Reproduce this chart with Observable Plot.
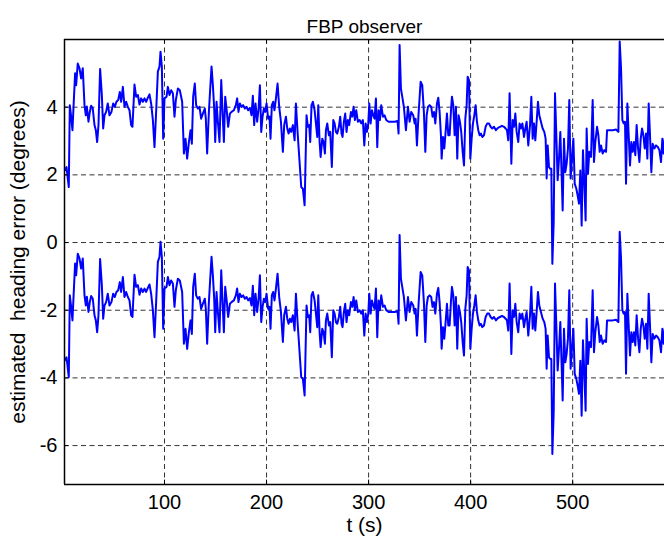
<!DOCTYPE html>
<html><head><meta charset="utf-8">
<script src="https://cdn.jsdelivr.net/npm/d3@7"></script>
<script src="https://cdn.jsdelivr.net/npm/@observablehq/plot@0.6"></script>
<style>html,body{margin:0;padding:0;background:#fff}</style>
</head><body><div id="chart"></div>
<script>
const title = "FBP observer";
const xLabel = "t (s)";
const yLabel = "estimated  heading error (degrees)";
const xTicks = [100, 200, 300, 400, 500];
const yTicks = [-6, -4, -2, 0, 2, 4];
const xDomain = [2, 590];
const yDomain = [-7.15, 6];

const t = [
2,4,6.2,7.2,8.5,9.8,11,12.4,13.4,15,
16.7,18.3,19.9,21.6,22.9,23.9,25.5,26.8,28.1,29.7,
31.4,32.7,34,35.3,36.9,38.6,39.9,41.2,42.8,44.4,
46.1,48,49.7,51.3,52.9,54.6,56.2,57.5,59.2,60.8,
62.4,64.1,65.7,67.3,68.6,70.6,72.2,73.9,75.5,77.1,
78.8,80.4,82,83.7,85.3,86.9,88.6,90.2,91.8,93.5,
95.1,96.1,97.4,98.7,100,102,103.3,104.9,106.5,108.2,
109.8,111.1,113.1,115,117.3,119,120.6,122.2,123.9,125.5,
126.8,128.1,129.7,131,132.7,134.3,135.9,137.6,139.5,140.5,
141.8,143.5,144.8,146.1,147.4,148.7,149.7,151,152.3,153.9,
155.6,156.9,158.2,159.5,161.1,162.4,164.1,165.7,168,169.9,
171.2,172.5,173.9,175.5,177.1,178.8,180.4,182,183.7,185.3,
186.6,187.9,189.2,190.8,192.2,193.5,194.8,196.1,197.4,198.7,
200,201.6,202.9,203.9,205.2,206.5,207.8,209.2,210.8,212.4,
214.1,216,217.3,219,220.3,221.6,222.9,224.2,225.8,227.5,
228.8,230.4,234,235.6,237.3,239.2,240.5,241.8,242.8,244.1,
245.4,247.1,248.4,249.7,250.7,252,253,254.6,255.9,257.2,
258.2,259.5,261.1,262.4,264,265.4,266.7,268,269.3,270.9,
272.2,273.5,274.5,275.8,277.1,278.4,279.7,281,282.7,284,
285.3,286.6,287.9,289.5,291.2,292.8,294.4,295.8,297.1,298.4,
299.7,300.7,302,303.3,304.6,305.9,307.2,308.5,309.8,311.1,
312.4,314.1,315.7,317.3,319.6,322.2,325.5,328.4,329.4,330.4,
331.7,333,334.6,336.6,338.6,340.2,341.8,343.8,345.1,346.1,
347.4,349,351,352.6,354.2,355.6,356.9,358.2,359.8,361.4,
362.7,364.1,365.4,367,368.3,369.6,370.9,371.6,372.9,374.2,
375.5,376.8,378.1,379.4,380.7,381.7,383,384.3,385.6,386.9,
388.2,389.5,390.8,392.2,393.5,394.8,396.1,397.1,398.4,399.7,
401,402.3,403.6,404.9,406.2,407.5,408.8,410.1,411.4,413.1,
414.7,416.3,418,419.6,421.2,422.9,424.8,426.8,428.8,430.7,
432.7,434.3,435.6,436.9,438.2,439.9,441.2,442.5,443.8,445.1,
446.7,448,449.3,450.7,452.3,453.6,454.9,456.5,458.2,459.5,
460.8,462.1,463.4,464.7,466,467.3,470.6,472.2,473.5,474.5,
475.5,476.8,478.1,479.1,480.1,481.4,482.7,484,485.3,486.6,
487.9,489.2,490.2,491.5,492.8,494.1,495.4,496.7,498,499.3,
500.7,502,503.6,504.9,506.2,507.5,508.8,510.1,511.4,512.7,
513.7,515,516.3,518,519.6,520.9,522.2,523.9,525.2,526.5,
527.8,529.4,531,532.7,533.7,535.9,539.2,542.5,544.8,546.1,
547.4,548.7,550,551.3,552.3,553.6,554.9,556.2,557.5,558.8,
560.1,561.4,562.7,564.1,565.4,566.7,568,569.3,570.6,571.9,
573.2,574.5,575.8,577.1,578.4,580.1,581.7,583.3,585,586.6,
587.9,589.2,590.6
];

const upper = [
2.13,2.23,1.64,4.06,3.72,3.32,4.11,5.00,4.65,5.29,
5.15,4.85,5.15,4.06,3.76,4.02,3.57,3.86,4.04,3.96,
3.47,3.32,2.97,3.47,5.13,4.36,3.37,3.76,3.86,4.11,
3.76,3.86,4.11,4.01,4.16,4.21,4.45,4.16,4.60,4.01,
4.16,4.01,3.91,3.47,3.42,4.67,4.31,4.36,4.08,4.26,
4.16,4.26,4.16,4.28,4.38,4.11,3.62,2.82,3.86,5.05,
5.20,5.64,5.20,3.07,4.26,4.31,4.60,4.36,4.50,4.41,
3.72,4.21,4.55,4.50,4.16,2.63,3.07,2.48,2.97,3.32,
2.92,4.31,4.70,4.06,3.96,4.01,3.66,3.81,3.96,3.66,
2.63,3.86,4.55,5.20,4.65,3.96,2.97,4.16,3.57,2.97,
4.80,3.86,2.97,4.31,3.86,3.42,3.81,3.86,3.91,4.06,
4.26,3.86,4.11,4.01,4.06,3.96,4.01,3.91,3.98,3.76,
4.34,3.47,4.11,3.57,3.96,4.65,3.27,3.72,3.96,3.86,
4.11,3.66,3.72,3.07,4.06,4.16,3.91,4.26,4.70,4.01,
3.57,2.68,3.47,3.72,3.37,3.22,3.37,3.27,3.47,3.02,
4.11,3.27,1.64,1.59,1.10,3.76,3.42,3.47,2.97,4.06,
4.16,3.91,3.52,3.12,4.06,2.97,2.53,3.07,2.97,2.63,
3.32,3.52,3.17,3.27,2.23,3.62,3.52,3.27,3.22,3.42,
3.72,3.22,3.12,3.57,3.81,3.27,3.62,3.47,3.86,3.72,
4.01,3.62,3.91,3.57,3.62,3.52,3.62,2.87,3.52,3.27,
3.52,4.11,3.52,3.91,3.76,3.66,4.26,2.82,3.91,3.62,
4.06,3.72,3.76,3.62,3.57,3.57,3.57,3.59,3.22,5.84,
4.55,4.31,4.01,3.32,4.01,3.57,3.86,3.76,3.52,3.66,
2.87,3.81,4.75,4.65,3.86,2.68,3.76,4.01,4.06,4.01,
3.72,3.86,3.52,4.11,4.28,3.86,3.17,2.48,3.12,2.78,
3.27,3.81,3.17,3.17,3.86,4.31,4.06,3.17,4.01,2.48,
3.76,3.57,3.27,2.68,2.28,3.66,4.06,4.90,4.80,2.48,
3.07,3.52,3.76,4.06,3.57,3.32,3.17,3.22,3.12,3.17,
3.42,3.52,3.52,3.42,3.37,3.42,3.32,3.39,3.42,3.45,
3.42,3.37,3.32,3.02,4.41,2.33,3.62,3.42,3.81,3.27,
2.97,3.52,3.37,3.52,3.12,3.37,3.57,2.87,3.47,4.31,
3.07,3.52,3.02,3.57,4.16,3.76,3.37,3.27,3.07,1.89,
2.87,2.23,2.18,2.18,-0.63,0.60,4.41,3.17,1.84,2.48,
3.27,1.99,0.95,3.07,2.08,2.33,2.78,4.21,1.89,2.48,
3.07,1.74,1.59,1.39,1.15,2.13,0.50,2.73,1.79,0.65,
3.37,2.03,2.68,2.53,4.21,2.38,2.97,3.42,3.17,2.68,
2.87,2.63,2.73,2.68,3.32,3.32,3.32,3.34,3.27,5.94,
5.15,3.62,3.52,3.57,1.74,4.11,3.17,2.28,2.97,2.68,
2.97,2.58,3.47,2.78,2.38,3.07,3.37,3.17,2.78,3.22,
2.48,4.11,3.17,2.08,2.92,2.78,2.87,2.83,2.73,2.38,
3.07,2.63,3.17
];

const lower = [
-3.49,-3.39,-3.98,-1.56,-1.9,-2.3,-1.51,-0.62,-0.97,-0.33,
-0.47,-0.77,-0.47,-1.56,-1.86,-1.6,-2.05,-1.76,-1.58,-1.66,
-2.15,-2.3,-2.65,-2.15,-0.49,-1.26,-2.25,-1.86,-1.76,-1.51,
-1.86,-1.76,-1.51,-1.61,-1.46,-1.41,-1.17,-1.46,-1.02,-1.61,
-1.46,-1.61,-1.71,-2.15,-2.2,-0.95,-1.31,-1.26,-1.54,-1.36,
-1.46,-1.36,-1.46,-1.34,-1.24,-1.51,-2.0,-2.8,-1.76,-0.57,
-0.42,0.02,-0.42,-2.55,-1.36,-1.31,-1.02,-1.26,-1.12,-1.21,
-1.9,-1.41,-1.07,-1.12,-1.46,-2.99,-2.55,-3.14,-2.65,-2.3,
-2.7,-1.31,-0.92,-1.56,-1.66,-1.61,-1.96,-1.81,-1.66,-1.96,
-2.99,-1.76,-1.07,-0.42,-0.97,-1.66,-2.65,-1.46,-2.05,-2.65,
-0.82,-1.76,-2.65,-1.31,-1.76,-2.2,-1.81,-1.76,-1.71,-1.56,
-1.36,-1.76,-1.51,-1.61,-1.56,-1.66,-1.61,-1.71,-1.64,-1.86,
-1.28,-2.15,-1.51,-2.05,-1.66,-0.97,-2.35,-1.9,-1.66,-1.76,
-1.51,-1.96,-1.9,-2.55,-1.56,-1.46,-1.71,-1.36,-0.92,-1.61,
-2.05,-2.94,-2.15,-1.9,-2.25,-2.4,-2.25,-2.35,-2.15,-2.6,
-1.51,-2.35,-3.98,-4.03,-4.52,-1.86,-2.2,-2.15,-2.65,-1.56,
-1.46,-1.71,-2.1,-2.5,-1.56,-2.65,-3.09,-2.55,-2.65,-2.99,
-2.3,-2.1,-2.45,-2.35,-3.39,-2.0,-2.1,-2.35,-2.4,-2.2,
-1.9,-2.4,-2.5,-2.05,-1.81,-2.35,-2.0,-2.15,-1.76,-1.9,
-1.61,-2.0,-1.71,-2.05,-2.0,-2.1,-2.0,-2.75,-2.1,-2.35,
-2.1,-1.51,-2.1,-1.71,-1.86,-1.96,-1.36,-2.8,-1.71,-2.0,
-1.56,-1.9,-1.86,-2.0,-2.05,-2.05,-2.05,-2.03,-2.4,0.22,
-1.07,-1.31,-1.61,-2.3,-1.61,-2.05,-1.76,-1.86,-2.1,-1.96,
-2.75,-1.81,-0.87,-0.97,-1.76,-2.94,-1.86,-1.61,-1.56,-1.61,
-1.9,-1.76,-2.1,-1.51,-1.34,-1.76,-2.45,-3.14,-2.5,-2.84,
-2.35,-1.81,-2.45,-2.45,-1.76,-1.31,-1.56,-2.45,-1.61,-3.14,
-1.86,-2.05,-2.35,-2.94,-3.34,-1.96,-1.56,-0.72,-0.82,-3.14,
-2.55,-2.1,-1.86,-1.56,-2.05,-2.3,-2.45,-2.4,-2.5,-2.45,
-2.2,-2.1,-2.1,-2.2,-2.25,-2.2,-2.3,-2.23,-2.2,-2.17,
-2.2,-2.25,-2.3,-2.6,-1.21,-3.29,-2.0,-2.2,-1.81,-2.35,
-2.65,-2.1,-2.25,-2.1,-2.5,-2.25,-2.05,-2.75,-2.15,-1.31,
-2.55,-2.1,-2.6,-2.05,-1.46,-1.86,-2.25,-2.35,-2.55,-3.73,
-2.75,-3.39,-3.44,-3.44,-6.25,-5.02,-1.21,-2.45,-3.78,-3.14,
-2.35,-3.63,-4.67,-2.55,-3.54,-3.29,-2.84,-1.41,-3.73,-3.14,
-2.55,-3.88,-4.03,-4.23,-4.47,-3.49,-5.12,-2.89,-3.83,-4.97,
-2.25,-3.59,-2.94,-3.09,-1.41,-3.24,-2.65,-2.2,-2.45,-2.94,
-2.75,-2.99,-2.89,-2.94,-2.3,-2.3,-2.3,-2.28,-2.35,0.32,
-0.47,-2.0,-2.1,-2.05,-3.88,-1.51,-2.45,-3.34,-2.65,-2.94,
-2.65,-3.04,-2.15,-2.84,-3.24,-2.55,-2.25,-2.45,-2.84,-2.4,
-3.14,-1.51,-2.45,-3.54,-2.7,-2.84,-2.75,-2.79,-2.89,-3.24,
-2.55,-2.99,-2.45
];

const data = t.map((ti, i) => ({t: ti, upper: upper[i], lower: lower[i]}));

const font = "'Liberation Sans', Arial, Helvetica, sans-serif";
const gridStyle = {stroke: "#000", strokeOpacity: 0.8, strokeWidth: 1, strokeDasharray: "5,3.5"};

const plot = Plot.plot({
  width: 664,
  height: 545,
  marginLeft: 64,
  marginRight: 0,
  marginTop: 39,
  marginBottom: 61,
  style: {fontFamily: font, fontSize: "20px", background: "#fff", color: "#000", whiteSpace: "pre", overflow: "visible"},
  x: {domain: xDomain, label: null},
  y: {domain: yDomain, label: null},
  marks: [
    Plot.gridX(xTicks, gridStyle),
    Plot.gridY(yTicks, gridStyle),
    Plot.line(data, {x: "t", y: "upper", stroke: "#0000ff", strokeWidth: 2, clip: true}),
    Plot.line(data, {x: "t", y: "lower", stroke: "#0000ff", strokeWidth: 2, clip: true}),
    Plot.ruleX(xTicks, {x: d => d, y1: yDomain[0], y2: yDomain[0] + 0.13, stroke: "#000", strokeWidth: 1}),
    Plot.ruleX(xTicks, {x: d => d, y1: yDomain[1], y2: yDomain[1] - 0.13, stroke: "#000", strokeWidth: 1}),
    Plot.ruleY(yTicks, {y: d => d, x1: xDomain[0], x2: xDomain[0] + 4, stroke: "#000", strokeWidth: 1}),
    Plot.ruleY([yDomain[1]], {stroke: "#000", strokeWidth: 1.5}),
    Plot.ruleY([yDomain[0]], {stroke: "#000", strokeWidth: 1.5}),
    Plot.ruleX([xDomain[0]], {stroke: "#000", strokeWidth: 1.5}),
    Plot.axisX(xTicks, {tickSize: 0, tickPadding: 10, fontSize: 20, label: null}),
    Plot.axisY(yTicks, {tickSize: 0, tickPadding: 7, fontSize: 20, label: null, tickFormat: d => String(d)}),
    Plot.text([title], {text: d => d, frameAnchor: "top", dy: -20, fontSize: 19}),
    Plot.text([xLabel], {text: d => d, frameAnchor: "bottom", dy: 47, fontSize: 21}),
    Plot.text([yLabel], {text: d => d, frameAnchor: "left", textAnchor: "middle", dx: -46, rotate: -90, fontSize: 21})
  ]
});
document.getElementById("chart").appendChild(plot);
</script>
</body></html>
